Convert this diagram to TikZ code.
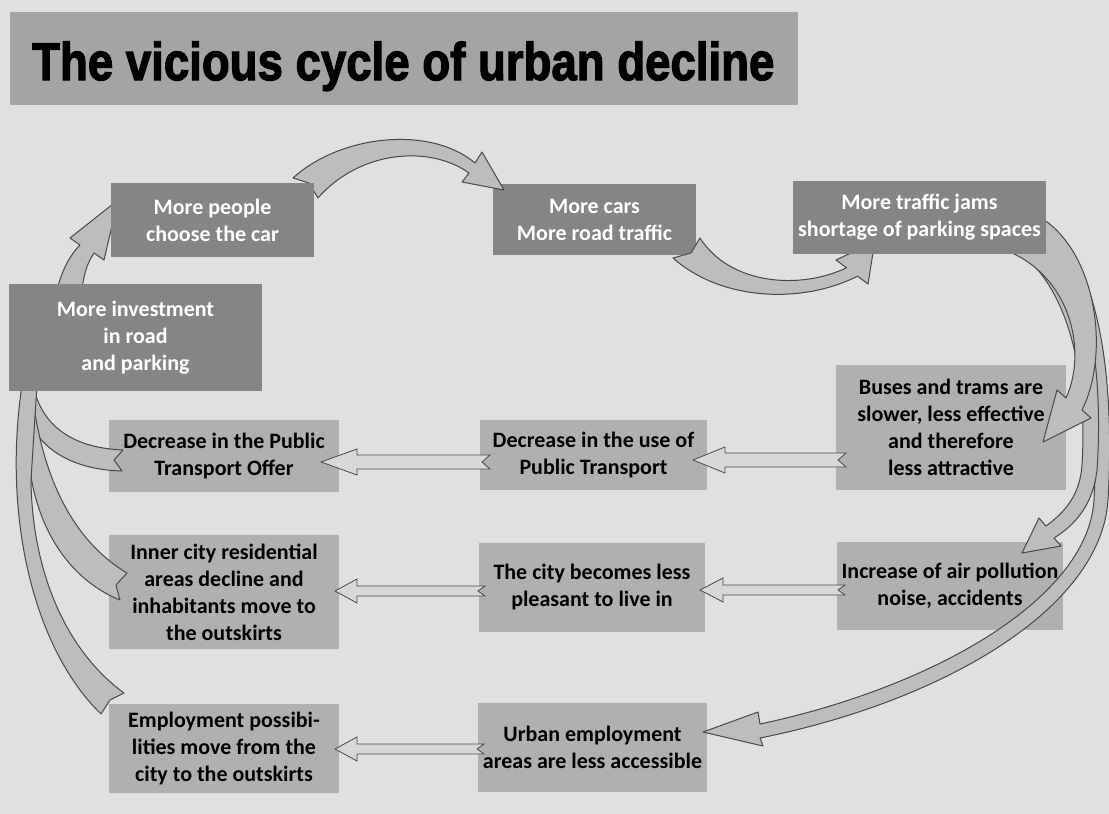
\documentclass[tikz,border=0pt]{standalone}
\usepackage{fontspec}
\setmainfont{Carlito}
\newfontfamily\titlefont[FakeBold=2.5]{Liberation Sans Bold}
\usetikzlibrary{calc}
\definecolor{bgc}{HTML}{E0E0E0}
\definecolor{titlec}{HTML}{A4A4A4}
\definecolor{darkc}{HTML}{858585}
\definecolor{lightc}{HTML}{B0B0B0}
\definecolor{fatfill}{HTML}{BDBDBD}
\definecolor{thinfill}{HTML}{D8D8D8}
\definecolor{edgec}{HTML}{484848}
\begin{document}
\begin{tikzpicture}[x=1pt,y=-1pt,
  box/.style={rectangle, inner sep=0pt, align=center,
    font=\fontsize{22}{27}\selectfont\bfseries},
  darkbox/.style={box, fill=darkc, text=white},
  lightbox/.style={box, fill=lightc, text=black},
  fat/.style={fill=fatfill, draw=edgec, line width=1pt, line join=round},
  thinarrow/.style={fill=thinfill, draw=edgec, line width=0.8pt, line join=miter}]
\useasboundingbox (0,0) rectangle (1109,814);
\fill[bgc] (0,0) rectangle (1109,814);
% title
\node[fill=titlec, minimum width=788, minimum height=93, anchor=north west, inner sep=0pt] (tbox) at (10,12) {};
\node[anchor=base west, inner sep=0pt, font=\titlefont\fontsize{53}{60}\selectfont] (title) at (32,80)
  {\scalebox{0.86}[1]{The vicious cycle of urban decline}};
% boxes drawn first
\node[darkbox, minimum width=203, minimum height=71] (b2) at (594.5,219.5) {More cars\\More road traffic};
\node[lightbox, minimum width=230, minimum height=72] (b5) at (224,456) {Decrease in the Public\\Transport Offer};
\node[lightbox, minimum width=227, minimum height=70] (b6) at (593.5,455) {Decrease in the use of\\Public Transport};
\node[lightbox, minimum width=230, minimum height=125] (b7) at (951,427.5) {Buses and trams are\\slower, less effective\\and therefore\\less attractive};
\node[lightbox, minimum width=230, minimum height=114] (b8) at (224,592) {Inner city residential\\areas decline and\\inhabitants move to\\the outskirts};
\node[lightbox, minimum width=226, minimum height=89] (b9) at (592,587.5) {The city becomes less\\pleasant to live in};
\node[lightbox, minimum width=226, minimum height=88] (b10) at (950,586) {Increase of air pollution\\noise, accidents};
\node[lightbox, minimum width=230, minimum height=89] (b11) at (224,748.5) {Employment possibi-\\lities move from the\\city to the outskirts};
\node[lightbox, minimum width=229, minimum height=89] (b12) at (592.5,747.5) {Urban employment\\areas are less accessible};
% big curved arrows
\draw[fat] (293,178) .. controls (340,135) and (430,125) .. (475,163) -- (482,152) -- (504,190) -- (462,182) -- (469,173)
  .. controls (430,145) and (360,150) .. (318,198) -- (309,183) -- cycle;
\draw[fat] (700,238) .. controls (730,285) and (800,290) .. (846.4,267.8) -- (836,260) -- (874.8,241.6) -- (868,284) -- (857.6,276.2)
  .. controls (800,305) and (720,300) .. (673,258) -- (691,253) -- cycle;
\draw[fat] (1040,222) .. controls (1100,255) and (1115,380) .. (1108,500) .. controls (1101,610) and (940,702) .. (760,738)
  -- (763,746) -- (703,732) -- (758,712) -- (760,724)
  .. controls (930,688) and (1088,600) .. (1094,500) .. controls (1100,390) and (1088,280) .. (1030,238) -- cycle;
\draw[fat] (1035,225) .. controls (1098,265) and (1102,400) .. (1097,470) .. controls (1093,505) and (1075,525) .. (1054,538)
  -- (1061,546) -- (1022,553) -- (1039,518) -- (1046,526)
  .. controls (1065,512) and (1080,495) .. (1082,465) .. controls (1086,400) and (1080,290) .. (1010,245) -- cycle;
\draw[fat] (1030,212) .. controls (1095,240) and (1112,350) .. (1082,410) -- (1091,418) -- (1043,442) -- (1057,390) -- (1066,398)
  .. controls (1088,350) and (1070,275) .. (1005,250) -- cycle;
\draw[fat] (57,290) .. controls (62,270) and (70,255) .. (80,245) -- (70,238) -- (118,200) -- (104,260) -- (94,253)
  .. controls (88,262) and (84,272) .. (82,290) -- cycle;
% left ribbons back to investment
\draw[fat] (33,385) .. controls (42,428) and (75,448) .. (123,450) -- (114,460) -- (122,471)
  .. controls (75,470) and (40,450) .. (30,420) -- (27,385) -- cycle;
\draw[fat] (33,400) .. controls (45,490) and (80,545) .. (127,573) -- (116,585) -- (120,600)
  .. controls (70,580) and (38,530) .. (30,470) -- cycle;
\draw[fat] (22,385) .. controls (2,520) and (35,650) .. (101,714) -- (110,700) -- (124,693)
  .. controls (65,650) and (32,570) .. (31,480) -- (37,385) -- cycle;
% boxes on top
\node[darkbox, minimum width=203, minimum height=74] (b1) at (212.5,220) {More people\\choose the car};
\node[darkbox, minimum width=253, minimum height=73] (b3) at (919.5,217.5) {More traffic jams\\shortage of parking spaces};
\node[darkbox, minimum width=253, minimum height=107] (b4) at (135.5,337.5) {More investment\\in road\\and parking};
% straight arrows
\draw[thinarrow] (846,453) -- (725,453) -- (725,447) -- (693,460) -- (725,473) -- (725,467) -- (846,467) -- (838,460) -- cycle;
\draw[thinarrow] (490,455) -- (357,455) -- (357,449) -- (321,462) -- (357,475) -- (357,469) -- (490,469) -- (482,462) -- cycle;
\draw[thinarrow] (845,585) -- (723,585) -- (723,578) -- (700,590) -- (723,602) -- (723,595) -- (845,595) -- (838,590) -- cycle;
\draw[thinarrow] (485,586) -- (357,586) -- (357,579) -- (335,591) -- (357,603) -- (357,596) -- (485,596) -- (478,591) -- cycle;
\draw[thinarrow] (484,744) -- (357,744) -- (357,737) -- (335,749) -- (357,761) -- (357,754) -- (484,754) -- (477,749) -- cycle;
\end{tikzpicture}
\end{document}
